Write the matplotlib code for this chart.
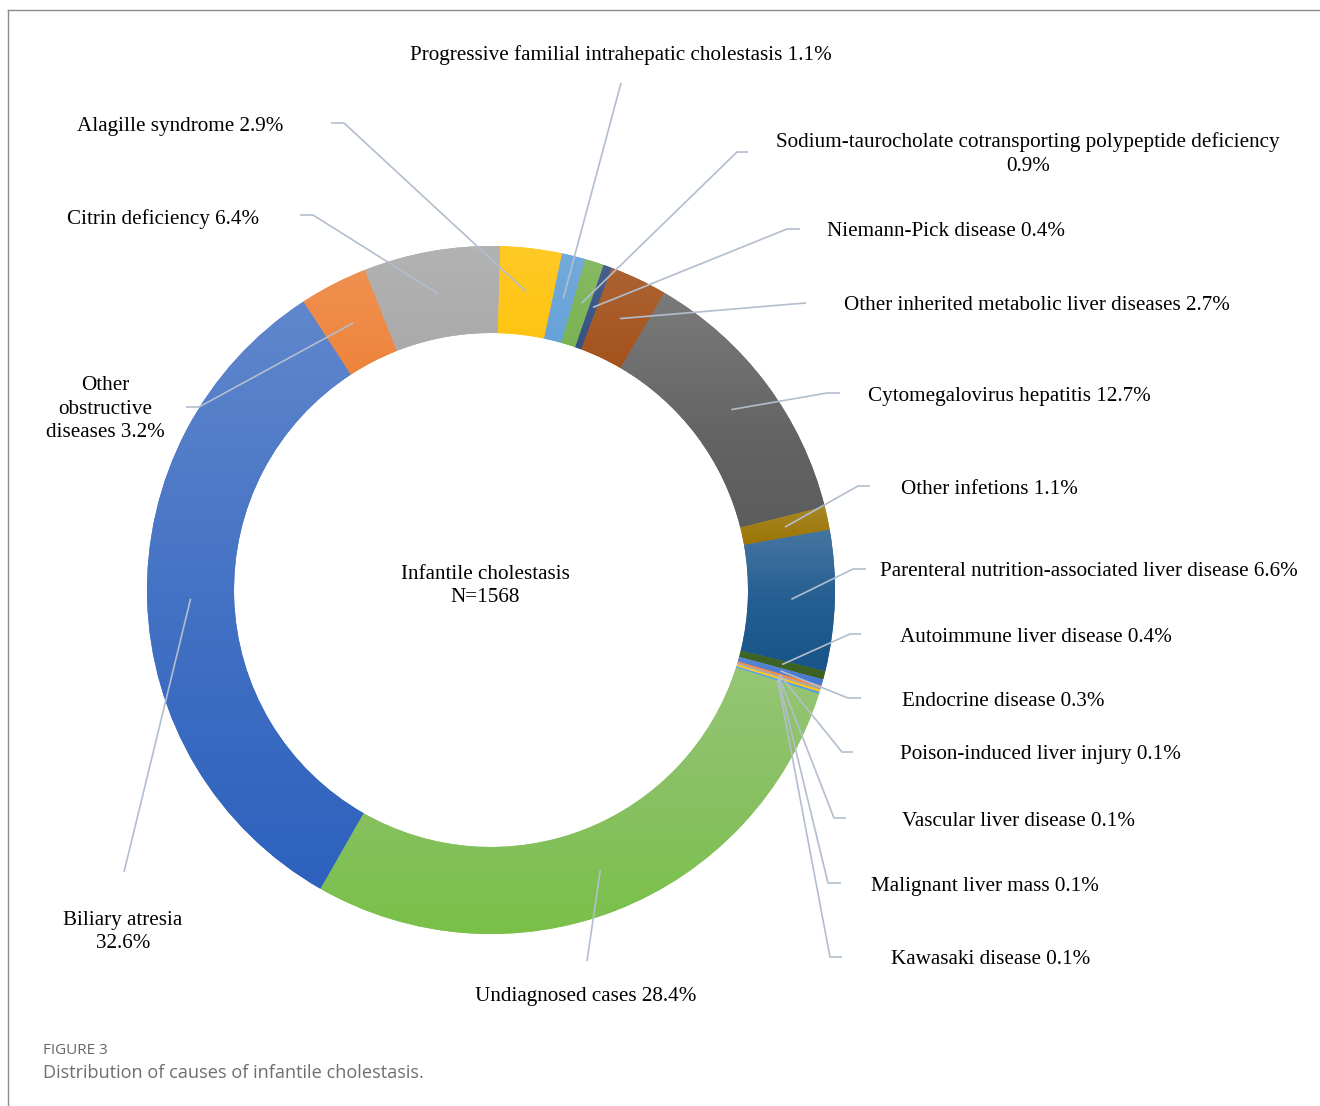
import colorsys
import numpy as np
import matplotlib.pyplot as plt
from matplotlib.colors import to_rgb

W, H = 1320, 1106

causes = [
    "Alagille syndrome",
    "Progressive familial intrahepatic cholestasis",
    "Sodium-taurocholate cotransporting polypeptide deficiency",
    "Niemann-Pick disease",
    "Other inherited metabolic liver diseases",
    "Cytomegalovirus hepatitis",
    "Other infetions",
    "Parenteral nutrition-associated liver disease",
    "Autoimmune liver disease",
    "Endocrine disease",
    "Poison-induced liver injury",
    "Vascular liver disease",
    "Malignant liver mass",
    "Kawasaki disease",
    "Undiagnosed cases",
    "Biliary atresia",
    "Other\nobstructive\ndiseases",
    "Citrin deficiency",
]
percent = [2.9, 1.1, 0.9, 0.4, 2.7, 12.7, 1.1, 6.6, 0.4, 0.3,
           0.1, 0.1, 0.1, 0.1, 28.4, 32.6, 3.2, 6.4]
colors = ["#FFC000", "#5B9BD5", "#70AD47", "#264478", "#9E480E", "#636363",
          "#997300", "#255E91", "#43682B", "#698ED0", "#F1975A", "#B7B7B7",
          "#FFCD33", "#7CAFDD", "#8CC168", "#4472C4", "#ED7D31", "#A5A5A5"]
# separator between name and percentage in each label
pct_sep = [" ", " ", "\n", " ", " ", " ", " ", " ", " ", " ",
           " ", " ", " ", " ", " ", "\n", " ", " "]
total_n = 1568

# label placement in pixel coords (y down): x, y, horizontal alignment
label_xy = [
    (283, 124, "right"), (621, 53, "center"), (1028, 152, "center"),
    (827, 230, "left"), (844, 304, "left"), (868, 394, "left"),
    (901, 487, "left"), (880, 570, "left"), (900, 635, "left"),
    (902, 699, "left"), (900, 753, "left"), (902, 819, "left"),
    (871, 884, "left"), (891, 957, "left"), (586, 995, "center"),
    (123, 930, "center"), (105, 407, "center"), (259, 217, "right"),
]
# leader line points after the slice anchor (elbow, then end)
leaders = [
    [(344, 123), (331, 123)], [(621, 83)], [(737, 152), (748, 152)],
    [(787, 229), (800, 229)], [(793, 304), (806, 303)], [(827, 393), (840, 393)],
    [(858, 486), (870, 486)], [(853, 569), (866, 569)], [(850, 634), (861, 634)],
    [(848, 698), (861, 698)], [(842, 752), (853, 752)], [(834, 818), (846, 818)],
    [(828, 883), (841, 883)], [(830, 957), (842, 957)], [(587, 961)],
    [(124, 872)], [(199, 407), (186, 407)], [(313, 215), (300, 215)],
]

cx, cy = 491, H - 590
r_out, r_in = 344, 257
start = 88.5
line_col = "#B2BECE"
serif = "Liberation Serif"
fs = 15.2


def deepen(c, lf=0.89, sf=1.18):
    h, l, s = colorsys.rgb_to_hls(*to_rgb(c))
    return np.array(colorsys.hls_to_rgb(h, l * lf, min(s * sf, 1)))


fig = plt.figure(figsize=(W / 100, H / 100), dpi=100)
ax = fig.add_axes([0, 0, 1, 1])

wedges, _ = ax.pie(percent, colors=colors, startangle=start, counterclock=False,
                   radius=r_out, center=(cx, cy),
                   wedgeprops=dict(width=r_out - r_in, linewidth=0))

# vertical gradient inside each slice: washed-out top, deeper bottom
for w, c in zip(wedges, colors):
    base = np.array(to_rgb(c))
    top = base * 0.85 + 0.15
    bot = deepen(c)
    t = np.linspace(0, 1, 256)[:, None]
    grad = np.where(t < 0.5, top + (base - top) * (t / 0.5),
                    base + (bot - base) * ((t - 0.5) / 0.5))
    v = w.get_path().vertices
    im = ax.imshow(grad[:, None, :], extent=(v[:, 0].min(), v[:, 0].max(),
                                             v[:, 1].min(), v[:, 1].max()),
                   origin="upper", aspect="auto", interpolation="bilinear", zorder=1.5)
    im.set_clip_path(w)

# labels and leader lines
cum = np.cumsum([0] + percent[:-1])
tot = sum(percent)
r_mid = (r_out + r_in) / 2
for i, (name, p) in enumerate(zip(causes, percent)):
    theta = np.deg2rad(start - 360 * (cum[i] + p / 2) / tot)
    ax_pt = (cx + r_mid * np.cos(theta), cy + r_mid * np.sin(theta))
    pts = [ax_pt] + [(x, H - y) for x, y in leaders[i]]
    xs, ys = zip(*pts)
    ax.plot(xs, ys, color=line_col, lw=1.2, zorder=3, solid_capstyle="butt")
    lx, ly, ha = label_xy[i]
    ax.text(lx, H - ly - 2, f"{name}{pct_sep[i]}{p}%", ha=ha, va="center",
            multialignment="center", fontsize=fs, family=serif,
            linespacing=1.35, zorder=4)

ax.text(cx - 6, H - 586, f"Infantile cholestasis\nN={total_n}", ha="center",
        va="center", fontsize=fs, family=serif, linespacing=1.35)

# frame lines and caption
ax.plot([8, 8], [H - 10, 0], color="#8a8a8a", lw=1)
ax.plot([8, W], [H - 10, H - 10], color="#8a8a8a", lw=1)
ax.text(43, H - 1050, "FIGURE 3", family="Open Sans", fontsize=11,
        color="#666666", va="center")
ax.text(43, H - 1073, "Distribution of causes of infantile cholestasis.",
        family="Open Sans", fontsize=13.1, color="#6e6e6e", va="center")

ax.set_xlim(0, W)
ax.set_ylim(0, H)
ax.set_aspect("equal")
ax.axis("off")
fig.savefig("out.png", dpi=100)
